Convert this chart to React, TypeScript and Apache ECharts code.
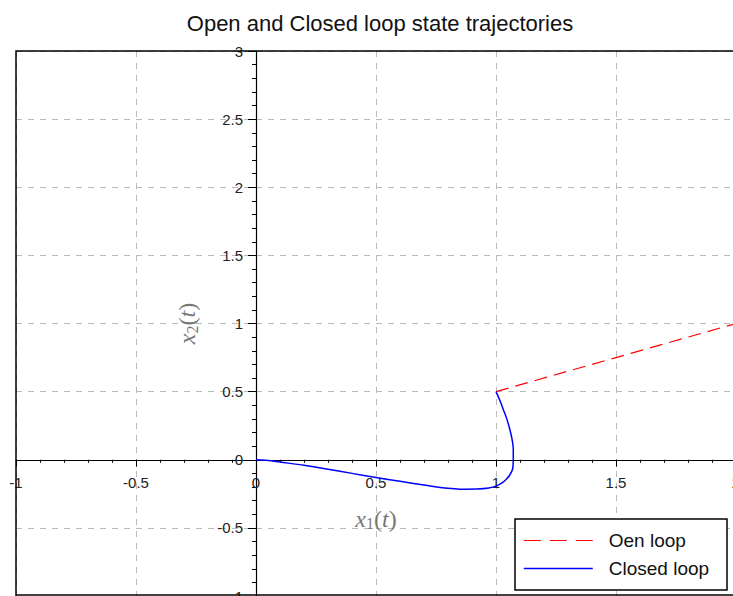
import React, { useEffect, useRef } from "react";
import * as echarts from "echarts";

const titleText = "Open and Closed loop state trajectories";
const legendNames = ["Oen loop", "Closed loop"];

const openX = [1.0, 1.5, 2.0];
const openY = [0.5, 0.75, 1.0];

const closedX = [1.0, 1.015, 1.03, 1.045, 1.058, 1.067, 1.072, 1.072, 1.069, 1.058, 1.043, 1.025, 1.003, 0.97, 0.92, 0.85, 0.8, 0.7, 0.6, 0.5, 0.4, 0.3, 0.2, 0.1, 0.05, 0.0];
const closedY = [0.5, 0.44, 0.37, 0.3, 0.22, 0.15, 0.077, 0.0, -0.07, -0.11, -0.143, -0.17, -0.192, -0.208, -0.215, -0.216, -0.21, -0.185, -0.158, -0.13, -0.1, -0.07, -0.04, -0.017, -0.005, 0.0];

const xMin = -1, xMax = 2, yMin = -1, yMax = 3, step = 0.5;

const GL = 16, GT = 51, GW = 720, GH = 545;

export default function App() {
  const ref = useRef<HTMLDivElement>(null);
  useEffect(() => {
    document.body.style.margin = "0";
    const chart = echarts.init(ref.current!, null, { renderer: "svg" });
    const nameRich = {
      i: { fontFamily: "Liberation Serif", fontStyle: "italic", fontSize: 24, color: "#777" },
      s: { fontFamily: "Liberation Serif", fontSize: 16, color: "#777", padding: [10, 0, 0, 0] },
      n: { fontFamily: "Liberation Serif", fontSize: 24, color: "#777" },
    };
    const labelStyle = { color: "#222", fontSize: 15, fontFamily: "Liberation Sans" };
    // offsets move axes from the frame edge to the zero lines
    const yOffset = -GW * (0 - xMin) / (xMax - xMin);
    const xOffset = -GH * (0 - yMin) / (yMax - yMin);
    chart.setOption({
      animation: false,
      title: {
        text: titleText,
        left: 375,
        top: 7,
        textAlign: "center",
        textStyle: { fontFamily: "Liberation Sans", fontSize: 22, fontWeight: "normal", color: "#111" },
      },
      grid: {
        left: GL, top: GT, width: GW, height: GH,
        outerBoundsMode: "none",
        containLabel: false,
        show: false,
      },
      xAxis: {
        type: "value", min: xMin, max: xMax, interval: step,
        offset: xOffset,
        axisLine: { onZero: false, lineStyle: { color: "#000", width: 1.2 } },
        axisTick: { show: true, length: 7, lineStyle: { color: "#000" } },
        minorTick: { show: true, splitNumber: 5, length: 3, lineStyle: { color: "#000" } },
        axisLabel: { ...labelStyle, margin: 15 },
        splitLine: { show: true, lineStyle: { color: "#bbb", type: [6, 6], width: 1 } },
        name: "{i|x}{s|1}{n|(}{i|t}{n|)}",
        nameLocation: "middle",
        nameGap: 46,
        nameTextStyle: { rich: nameRich },
      },
      yAxis: {
        type: "value", min: yMin, max: yMax, interval: step,
        offset: yOffset,
        axisLine: { onZero: false, lineStyle: { color: "#000", width: 1.2 } },
        axisTick: { show: true, length: 8, lineStyle: { color: "#000" } },
        minorTick: { show: true, splitNumber: 5, length: 4, lineStyle: { color: "#000" } },
        axisLabel: { ...labelStyle, margin: 13 },
        splitLine: { show: true, lineStyle: { color: "#bbb", type: [6, 6], width: 1 } },
        name: "{i|x}{s|2}{n|(}{i|t}{n|)}",
        nameLocation: "middle",
        nameGap: 56,
        nameRotate: 90,
        nameTextStyle: { rich: nameRich },
      },
      graphic: [
        {
          type: "polyline", z: 40, silent: true,
          shape: { points: [[GL, GT + GH], [GL, GT], [GL + GW, GT]] },
          style: { fill: null, stroke: "#000", lineWidth: 1.5 },
        },
        {
          type: "line", z: 40, silent: true,
          shape: { x1: GL, y1: GT + GH - 1, x2: GL + GW, y2: GT + GH - 1 },
          style: { stroke: "#000", lineWidth: 1.5 },
        },
        {
          type: "rect", z: 50,
          shape: { x: 515, y: 519, width: 212, height: 71 },
          style: { fill: "#fff", stroke: "#000", lineWidth: 1.5 },
        },
      ],
      legend: {
        z: 60,
        left: 523, top: 531,
        orient: "vertical",
        padding: 0,
        itemWidth: 69, itemHeight: 14, itemGap: 9,
        itemStyle: { opacity: 0 },
        textStyle: { fontFamily: "Liberation Sans", fontSize: 19, color: "#111", padding: [0, 0, 0, 11] },
        data: [
          { name: legendNames[0], lineStyle: { type: [17, 9], width: 1.2, color: "#ff0000" } },
          { name: legendNames[1], lineStyle: { width: 1.5, color: "#0000ff" } },
        ],
      },
      series: [
        {
          name: legendNames[0], type: "line",
          data: openX.map((x, i) => [x, openY[i]]),
          showSymbol: false, symbol: "none",
          lineStyle: { color: "#ff0000", width: 1.2, type: [13, 7] },
          itemStyle: { color: "#ff0000" },
        },
        {
          name: legendNames[1], type: "line",
          data: closedX.map((x, i) => [x, closedY[i]]),
          showSymbol: false, symbol: "none", smooth: 0.3,
          lineStyle: { color: "#0000ff", width: 1.5 },
          itemStyle: { color: "#0000ff" },
        },
      ],
    });
    return () => chart.dispose();
  }, []);
  return <div ref={ref} style={{ width: 733, height: 596 }} />;
}
